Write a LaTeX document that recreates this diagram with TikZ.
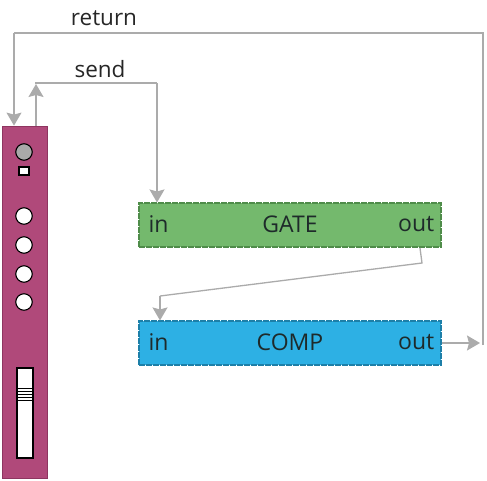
\documentclass[tikz,border=0pt]{standalone}
\usepackage{fontspec}
\setmainfont{Open Sans}
\usetikzlibrary{arrows.meta}
\definecolor{pinkc}{HTML}{B0497A}
\definecolor{pinkd}{HTML}{8E3560}
\definecolor{gatec}{HTML}{74B96D}
\definecolor{gated}{HTML}{4F8C4A}
\definecolor{compc}{HTML}{2DB0E4}
\definecolor{compd}{HTML}{1D7FA8}
\definecolor{linec}{HTML}{ABABAB}
\definecolor{knobg}{HTML}{A9A9A9}
\definecolor{txtc}{HTML}{1E2A2A}
\begin{document}
\begin{tikzpicture}[x=1pt,y=-1pt,
  conn/.style={draw=linec,line width=1.3pt},
  tip/.style={-{Stealth[length=13pt,width=15pt,inset=2pt]},linec},
  strip/.style={draw=pinkd,fill=pinkc,line width=0.8pt,minimum width=45pt,minimum height=352pt,inner sep=0pt},
  knob/.style={circle,draw=black,line width=1.1pt,fill=white,minimum size=16.5pt,inner sep=0pt},
  sq/.style={draw=black,line width=1.1pt,fill=white,minimum width=10pt,minimum height=8pt,inner sep=0pt},
  slider/.style={draw=black,line width=1.1pt,fill=white,minimum width=16pt,minimum height=90pt,inner sep=0pt},
  box/.style={line width=1.1pt,dashed,dash pattern=on 6pt off 1pt,minimum width=302pt,minimum height=44pt,inner sep=0pt},
  lbl/.style={font=\fontsize{23}{27}\selectfont,text=txtc,inner sep=0pt},
  toplbl/.style={font=\fontsize{22.5}{27}\selectfont,text=black!85,inner sep=0pt}]
\useasboundingbox (0,0) rectangle (487,480);

% strip
\node[strip] (strip) at (24.5,302) {};
\node[knob,fill=knobg] (k0) at (24,152) {};
\node[sq] (sq) at (24,171) {};
\node[knob] (k1) at (24,216) {};
\node[knob] (k2) at (24,245) {};
\node[knob] (k3) at (24,274) {};
\node[knob] (k4) at (24,302) {};
\node[slider] (sl) at (25,413) {};
\foreach \yy in {388,391,394,397,400}
  \draw[black,line width=0.6pt] ([xshift=1pt]sl.west |- 0,\yy) -- ([xshift=-1pt]sl.east |- 0,\yy);

% boxes
\node[box,draw=gated,fill=gatec] (gate) at (290,225) {};
\node[lbl,anchor=west] (gin) at ([xshift=10pt,yshift=1pt]gate.west) {in};
\node[lbl] (gname) at ([yshift=1pt]gate.center) {GATE};
\node[lbl,anchor=east] (gout) at ([xshift=-7pt,yshift=1pt]gate.east) {out};

\node[box,draw=compd,fill=compc] (comp) at (290,343) {};
\node[lbl,anchor=west] (cin) at ([xshift=10pt,yshift=1pt]comp.west) {in};
\node[lbl] (cname) at ([yshift=1pt]comp.center) {COMP};
\node[lbl,anchor=east] (cout) at ([xshift=-7pt,yshift=1pt]comp.east) {out};

% labels
\node[toplbl] (lret) at (104,18) {return};
\node[toplbl] (lsend) at (100,69) {send};

% coordinates
\coordinate (sendtop) at (36,83);
\coordinate (sendarr) at (36,84);
\coordinate (sendright) at (157,83);
\coordinate (rtip) at (480,343);
\coordinate (rt) at (483,345);
\coordinate (rtop) at (483,33);
\coordinate (ltop) at (14,33);
\coordinate (g1) at (420,248);
\coordinate (g2) at (422,263);
\coordinate (g3) at (160,296);

% send
\draw[conn,tip] (sendtop |- strip.north) -- (sendarr);
\draw[conn] (sendarr) -- (sendtop) -- (sendright);
\draw[conn,tip] (sendright) -- (sendright |- gate.north);

% gate -> comp
\draw[conn] (g1) -- (g2) -- (g3);
\draw[conn,tip] (g3) -- (g3 |- comp.north);

% return
\draw[conn,tip] (comp.east) -- (rtip);
\draw[conn] (rt) -- (rtop) -- (ltop);
\draw[conn,tip] (ltop) -- (ltop |- strip.north);
\end{tikzpicture}
\end{document}
